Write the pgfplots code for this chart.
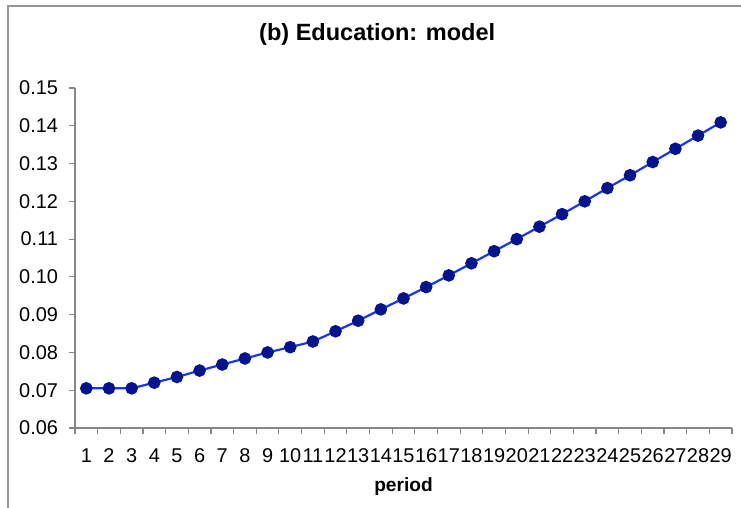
\documentclass[border=0pt]{standalone}
\usepackage{fontspec}
\setmainfont{Liberation Sans}
\usepackage{pgfplots}
\pgfplotsset{compat=1.18}

\definecolor{linecol}{RGB}{25,55,230}
\definecolor{markcol}{RGB}{5,20,140}
\definecolor{axiscol}{RGB}{135,135,135}
\definecolor{framecol}{RGB}{150,150,150}

\begin{document}
\begin{tikzpicture}
\useasboundingbox (0,0) rectangle (370.5bp,254bp);
% outer chart frame (only left and top edges visible)
\draw[framecol, line width=0.9bp] (4bp,0) -- (4bp,251bp) -- (370.5bp,251bp);
\begin{axis}[
  at={(37.5bp,40bp)}, anchor=origin,
  scale only axis,
  width=328.5bp, height=170bp,
  xmin=0.5, xmax=29.5,
  ymin=0.06, ymax=0.15,
  axis x line*=bottom, axis y line*=left,
  axis line style={axiscol, line width=0.6bp},
  xtick={1,...,29},
  minor xtick={0.5,1.5,...,29.5},
  major x tick style={draw=none},
  minor x tick style={axiscol, line width=0.6bp},
  ytick={0.06,0.07,...,0.15},
  y tick style={axiscol, line width=0.6bp},
  tick align=outside,
  major tick length=3bp, minor tick length=3bp,
  yticklabel style={/pgf/number format/.cd, fixed, fixed zerofill, precision=2, /tikz/.cd, font=\fontsize{10}{12}\selectfont, xshift=-2bp},
  xticklabel style={font=\fontsize{10}{12}\selectfont, yshift=-4bp},
  /pgf/number format/assume math mode=true,
  scaled y ticks=false,
  title={(b) Education: model},
  title style={font=\bfseries\fontsize{11.8}{14}\selectfont, at={(0.46,1)}, anchor=center, yshift=21bp},
  xlabel={period},
  xlabel style={font=\bfseries\fontsize{9.6}{11}\selectfont, at={(axis description cs:0.5,0)}, anchor=center, yshift=-29.5bp},
  clip=false,
]
\addplot[linecol, line width=1.1bp, mark=*, mark size=2.6bp,
  mark options={fill=markcol, draw=markcol}] coordinates {
  (1,0.0705)(2,0.0705)(3,0.0705)(4,0.0720)(5,0.0735)(6,0.0752)
  (7,0.0768)(8,0.0784)(9,0.0800)(10,0.0814)(11,0.0829)(12,0.0856)
  (13,0.0884)(14,0.0914)(15,0.0943)(16,0.0973)(17,0.1004)(18,0.1036)
  (19,0.1068)(20,0.1100)(21,0.1133)(22,0.1166)(23,0.1200)(24,0.1235)
  (25,0.1269)(26,0.1304)(27,0.1339)(28,0.1374)(29,0.1409)
};
\end{axis}
\end{tikzpicture}
\end{document}
